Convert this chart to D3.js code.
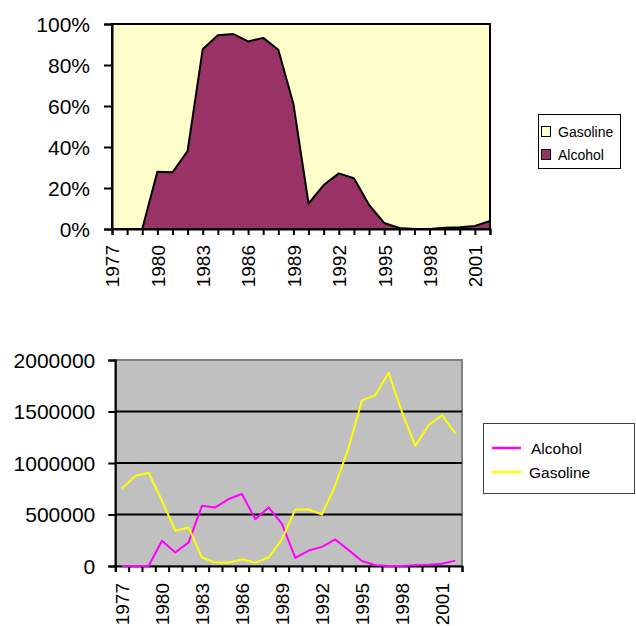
<!DOCTYPE html>
<html><head><meta charset="utf-8">
<script src="https://cdn.jsdelivr.net/npm/d3@7"></script>
<style>
body{margin:0;background:#fff;}
svg{display:block;font-family:"Liberation Sans",Arial,sans-serif;}
</style></head>
<body>
<svg id="chart" width="636" height="626"></svg>
<script>
const years = [1977,1978,1979,1980,1981,1982,1983,1984,1985,1986,1987,1988,1989,1990,1991,1992,1993,1994,1995,1996,1997,1998,1999,2000,2001,2002];
const alcohol = [0,0,0,245000,131000,229000,585000,569000,650000,699000,454000,569000,408000,78000,150000,186000,258000,154000,49000,8000,0,0,7000,12000,22000,52000];
const gasoline = [752000,876000,905000,634000,343000,373000,82000,33000,33000,65000,33000,82000,261000,549000,549000,500000,784000,1150000,1608000,1657000,1876000,1493000,1167000,1369000,1464000,1288000];
const seriesNames = ["Alcohol","Gasoline"];
const pctTicks = [0,0.2,0.4,0.6,0.8,1];
const valueTicks = [0,500000,1000000,1500000,2000000];
const labelYears = [1977,1980,1983,1986,1989,1992,1995,1998,2001];

const rows = years.map((y,i)=>({year:y, Alcohol:alcohol[i], Gasoline:gasoline[i]}));
const svg = d3.select("#chart");
const FONT = "\"Liberation Sans\",Arial,sans-serif";

// ---------- Top chart: 100% stacked area ----------
const t = {l:112, r:490, t:24, b:229};
const xT = d3.scalePoint().domain(years).range([t.l,t.r]);
const yT = d3.scaleLinear().domain([0,1]).range([t.b,t.t]);
const stack = d3.stack().keys(seriesNames).offset(d3.stackOffsetExpand);
const layers = stack(rows);
const fillsTop = {Alcohol:"#993366", Gasoline:"#FFFFCC"};
const area = d3.area().x(d=>xT(d.data.year)).y0(d=>yT(d[0])).y1(d=>yT(d[1]));
const gTop = svg.append("g");
layers.slice().reverse().forEach(L=>{
  gTop.append("path").attr("d",area(L)).attr("fill",fillsTop[L.key]);
});
const lineTop = d3.line().x(d=>xT(d.data.year)).y(d=>yT(d[1]));
gTop.append("path").attr("d",lineTop(layers[0])).attr("fill","none").attr("stroke","#000").attr("stroke-width",2).attr("stroke-linejoin","round");
gTop.append("rect").attr("x",t.l).attr("y",t.t).attr("width",t.r-t.l).attr("height",t.b-t.t)
  .attr("fill","none").attr("stroke","#000").attr("stroke-width",2);

const yAxT = d3.axisLeft(yT).tickValues(pctTicks).tickFormat(d3.format(".0%")).tickSize(8).tickPadding(14);
const gyT = gTop.append("g").attr("transform",`translate(${t.l},0)`).call(yAxT);
const xAxT = d3.axisBottom(xT).tickFormat(d=>labelYears.includes(d)?String(d):"").tickSize(6);
const gxT = gTop.append("g").attr("transform",`translate(0,${t.b})`).call(xAxT);

// ---------- Bottom chart: lines ----------
const b = {l:115.3, r:462, t:360, b:566};
const xB = d3.scaleBand().domain(years).range([b.l,b.r]).padding(0);
const yB = d3.scaleLinear().domain([0,2000000]).range([b.b,b.t]);
const gBot = svg.append("g");
gBot.append("rect").attr("x",b.l).attr("y",b.t).attr("width",b.r-b.l).attr("height",b.b-b.t)
  .attr("fill","#C0C0C0").attr("stroke","#808080").attr("stroke-width",2);
gBot.selectAll("line.grid").data(valueTicks.filter(v=>v>0 && v<2000000)).enter().append("line")
  .attr("x1",b.l).attr("x2",b.r).attr("y1",d=>yB(d)).attr("y2",d=>yB(d))
  .attr("stroke","#000").attr("stroke-width",2);
const yAxB = d3.axisLeft(yB).tickValues(valueTicks).tickFormat(d3.format("d")).tickSize(7).tickPadding(13);
const gyB = gBot.append("g").attr("transform",`translate(${b.l},0)`).call(yAxB);
const boundary = d3.scaleLinear().domain([0,years.length]).range([b.l,b.r]);
const gxB1 = gBot.append("g").attr("transform",`translate(0,${b.b})`)
  .call(d3.axisBottom(boundary).tickValues(d3.range(years.length+1)).tickFormat("").tickSize(6));
const gxB2 = gBot.append("g").attr("transform",`translate(0,${b.b})`)
  .call(d3.axisBottom(xB).tickValues(labelYears).tickSize(0));
gxB2.select(".domain").remove();
const colorsBot = {Alcohol:"#FF00FF", Gasoline:"#FFFF00"};
const lineB = d3.line().x(d=>xB(d.year)+xB.bandwidth()/2);
seriesNames.forEach(k=>{
  gBot.append("path").datum(rows).attr("d",lineB.y(d=>yB(d[k]))).attr("fill","none")
    .attr("stroke",colorsBot[k]).attr("stroke-width",2).attr("stroke-linejoin","round");
});

// axis styling
[gyT,gxT,gyB,gxB1].forEach(g=>{
  g.select(".domain").attr("stroke","#000").attr("stroke-width",2);
  g.selectAll(".tick line").attr("stroke","#000").attr("stroke-width",2);
});
[gyT,gyB].forEach(g=>{
  g.selectAll("text").attr("font-family",FONT).attr("font-size",21).attr("fill","#000").attr("dy","0.34em");
});
gxT.selectAll("text").attr("font-family",FONT).attr("font-size",19).attr("fill","#000")
  .attr("transform","rotate(-90)").attr("text-anchor","end").attr("x",-16).attr("y",0).attr("dy","0.36em");
gxB2.selectAll("text").attr("font-family",FONT).attr("font-size",19).attr("fill","#000")
  .attr("transform","rotate(-90)").attr("text-anchor","end").attr("x",-17).attr("y",0).attr("dy","0.36em");
[gyT,gxT,gyB,gxB1,gxB2].forEach(g=>g.attr("font-family",FONT));

// ---------- Legends ----------
const lgT = svg.append("g");
lgT.append("rect").attr("x",538.5).attr("y",114.5).attr("width",82).attr("height",54).attr("fill","#fff").attr("stroke","#000").attr("stroke-width",1);
const topLegend = ["Gasoline","Alcohol"];
topLegend.forEach((k,i)=>{
  lgT.append("rect").attr("x",541.5).attr("y",126.5+i*23).attr("width",9).attr("height",10)
    .attr("fill",fillsTop[k]).attr("stroke","#000").attr("stroke-width",1);
  lgT.append("text").attr("x",558).attr("y",137+i*23).attr("font-family",FONT).attr("font-size",14).attr("fill","#000").text(k);
});
const lgB = svg.append("g");
lgB.append("rect").attr("x",483.5).attr("y",423.5).attr("width",151).attr("height",70).attr("fill","#fff").attr("stroke","#404040").attr("stroke-width",1);
seriesNames.forEach((k,i)=>{
  lgB.append("line").attr("x1",492).attr("x2",521).attr("y1",448+i*24).attr("y2",448+i*24)
    .attr("stroke",colorsBot[k]).attr("stroke-width",2.5);
  lgB.append("text").attr("x",k==="Alcohol"?531:529).attr("y",454+i*24).attr("font-family",FONT).attr("font-size",15.5).attr("fill","#000").text(k);
});
</script>
</body></html>
